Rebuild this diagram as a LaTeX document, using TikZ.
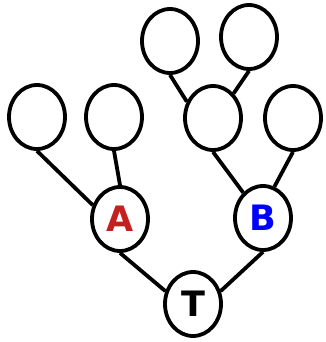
\documentclass[tikz,border=0pt]{standalone}
\usepackage{fontspec}
\setmainfont{DejaVu Sans}
\usepackage{xcolor}
\usetikzlibrary{shapes.geometric}
\definecolor{labelred}{RGB}{196,32,32}
\definecolor{labelblue}{RGB}{0,0,255}

\begin{document}
\begin{tikzpicture}[x=1pt,y=-1pt,every node/.style={shape=ellipse,draw,line width=3.8pt,minimum width=56pt,minimum height=64pt,inner sep=0pt,font=\fontsize{35}{35}\selectfont\bfseries},line width=3.8pt]
	\useasboundingbox (0,0) rectangle (325,342);
	% create the nodes
	\node (t) at (193,304) {T};
	\node (a)[text=labelred] at (120,219) {A};
	\node (b)[text=labelblue] at (263,218) {B};
	\node (a1) at (37,117) {};
	\node (a2) at (114,117) {};
	\node (b1) at (213,118) {};
	\node (b2) at (293,118) {};
	\node (c1) at (170,41) {};
	\node (c2) at (249,37) {};

	% connect the nodes
	\draw (a.south) -- (t.155);
	\draw (b.south) -- (t.25);
	\draw (a1.south) -- (a.153);
	\draw (a2.south) -- (a.north);
	\draw (b1.south) -- (b.128);
	\draw (b2.south) -- (b.70);
	\draw (c1.south) -- (b1.148);
	\draw (c2.south) -- (b1.50);
\end{tikzpicture}
\end{document}
